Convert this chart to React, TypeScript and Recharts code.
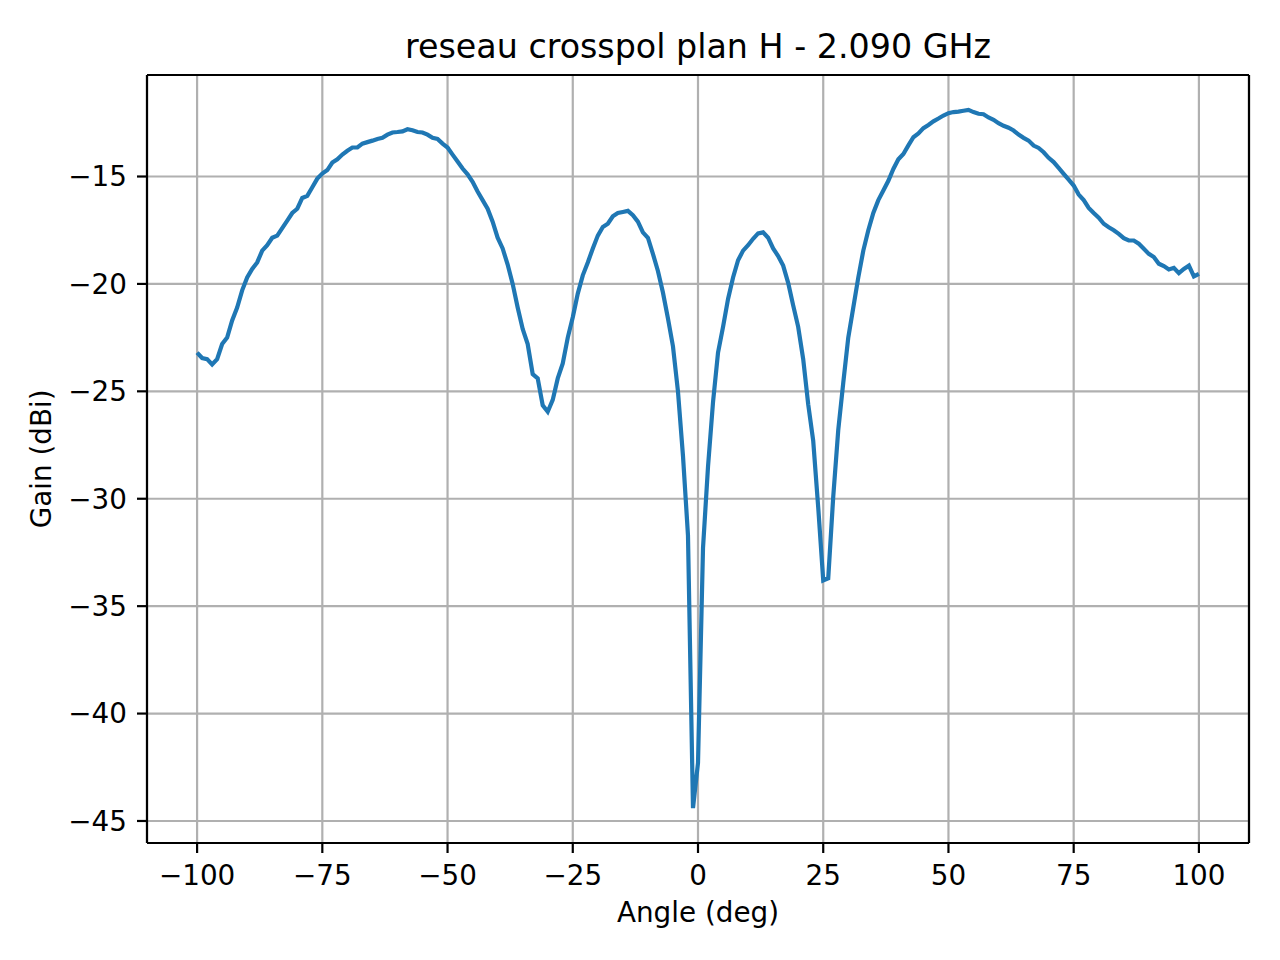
import { CartesianGrid, Line, LineChart, ReferenceLine, XAxis, YAxis } from "recharts";

// measured gain, one sample per degree from -100 to 100
const angles = Array.from({ length: 201 }, (_, i) => i - 100);

const gain = [
  -23.2, -23.45, -23.5, -23.75, -23.5, -22.8, -22.5, -21.7, -21.1, -20.3,
  -19.7, -19.3, -19.0, -18.45, -18.2, -17.85, -17.75, -17.4, -17.05, -16.7,
  -16.5, -16.0, -15.9, -15.5, -15.1, -14.86, -14.7, -14.35, -14.2, -13.98,
  -13.8, -13.65, -13.65, -13.47, -13.4, -13.33, -13.25, -13.2, -13.05, -12.95,
  -12.93, -12.9, -12.8, -12.85, -12.93, -12.95, -13.05, -13.2, -13.25, -13.47,
  -13.65, -13.98, -14.3, -14.63, -14.9, -15.25, -15.7, -16.1, -16.5, -17.1,
  -17.85, -18.35, -19.1, -20.0, -21.1, -22.1, -22.8, -24.2, -24.4, -25.65,
  -25.95, -25.4, -24.4, -23.7, -22.5, -21.55, -20.45, -19.6, -19.0, -18.35,
  -17.75, -17.35, -17.2, -16.85, -16.7, -16.65, -16.6, -16.8, -17.1, -17.6,
  -17.85, -18.6, -19.4, -20.4, -21.6, -22.9, -25.0, -28.0, -31.7, -44.4,
  -42.3, -32.3, -28.5, -25.5, -23.2, -22.0, -20.7, -19.7, -18.9, -18.45,
  -18.2, -17.9, -17.65, -17.6, -17.85, -18.35, -18.7, -19.15, -19.95, -21.0,
  -22.0, -23.5, -25.6, -27.3, -30.4, -33.8, -33.7, -29.9, -26.8, -24.6,
  -22.5, -21.1, -19.7, -18.45, -17.5, -16.7, -16.1, -15.65, -15.2, -14.65,
  -14.2, -13.95, -13.55, -13.17, -13.0, -12.75, -12.6, -12.43, -12.3, -12.16,
  -12.05, -12.0, -11.98, -11.94, -11.9, -12.0, -12.08, -12.1, -12.25, -12.36,
  -12.52, -12.64, -12.73, -12.86, -13.05, -13.2, -13.33, -13.56, -13.67, -13.87,
  -14.13, -14.33, -14.6, -14.88, -15.15, -15.42, -15.84, -16.1, -16.46, -16.7,
  -16.92, -17.2, -17.36, -17.5, -17.67, -17.87, -17.98, -17.98, -18.13, -18.36,
  -18.6, -18.75, -19.06, -19.17, -19.33, -19.25, -19.5, -19.3, -19.15, -19.65,
  -19.53,
];

const xTicks = [-100, -75, -50, -25, 0, 25, 50, 75, 100];
const yTicks = [-45, -40, -35, -30, -25, -20, -15];

const data = angles.map((a, i) => ({ angle: a, gain: gain[i] }));

// matplotlib-style 5% autoscale margins
const gMin = Math.min(...gain);
const gMax = Math.max(...gain);
const yPad = (gMax - gMin) * 0.05;
const yDomain = [gMin - yPad, gMax + yPad];
const xDomain = [-110, 110];

const FONT = "'DejaVu Sans', sans-serif";
const fmt = (v: number) => String(v).replace("-", "\u2212");
const tickStyle = { fontSize: 27.8, fill: "#000", fontFamily: FONT };
const axisStroke = { stroke: "#000", strokeWidth: 2.2 };

export default function App() {
  return (
    <div
      style={{
        position: "absolute",
        left: 0,
        top: 0,
        width: 1280,
        height: 960,
        background: "#fff",
        fontFamily: FONT,
      }}
    >
      <div
        style={{
          position: "absolute",
          left: 147,
          top: 30,
          width: 1102,
          textAlign: "center",
          fontSize: 33.3,
          lineHeight: 1,
          color: "#000",
        }}
      >
        reseau crosspol plan H - 2.090 GHz
      </div>
      <div
        style={{
          position: "absolute",
          left: 147,
          top: 899,
          width: 1102,
          textAlign: "center",
          fontSize: 27.8,
          lineHeight: 1,
          color: "#000",
        }}
      >
        Angle (deg)
      </div>
      <div
        style={{
          position: "absolute",
          left: 41.5 - 200,
          top: 459 - 13.9,
          width: 400,
          height: 27.8,
          textAlign: "center",
          fontSize: 27.8,
          lineHeight: 1,
          color: "#000",
          transform: "rotate(-90deg)",
        }}
      >
        Gain (dBi)
      </div>
      <LineChart
        width={1280}
        height={960}
        data={data}
        margin={{ top: 75, right: 31, bottom: 57, left: 67 }}
      >
        <CartesianGrid stroke="#b0b0b0" strokeWidth={2.2} />
        <XAxis
          dataKey="angle"
          type="number"
          domain={xDomain}
          ticks={xTicks}
          tickFormatter={fmt}
          height={60}
          tick={tickStyle}
          tickSize={10}
          tickMargin={12}
          axisLine={axisStroke}
          tickLine={axisStroke}
        />
        <YAxis
          type="number"
          domain={yDomain}
          ticks={yTicks}
          tickFormatter={fmt}
          width={80}
          tick={tickStyle}
          tickSize={10}
          tickMargin={10}
          axisLine={axisStroke}
          tickLine={axisStroke}
          allowDataOverflow
        />
        <ReferenceLine y={yDomain[1]} stroke="#000" strokeWidth={2.2} />
        <ReferenceLine x={xDomain[1]} stroke="#000" strokeWidth={2.2} />
        <Line
          type="linear"
          dataKey="gain"
          stroke="#1f77b4"
          strokeWidth={4.2}
          dot={false}
          isAnimationActive={false}
        />
      </LineChart>
    </div>
  );
}
